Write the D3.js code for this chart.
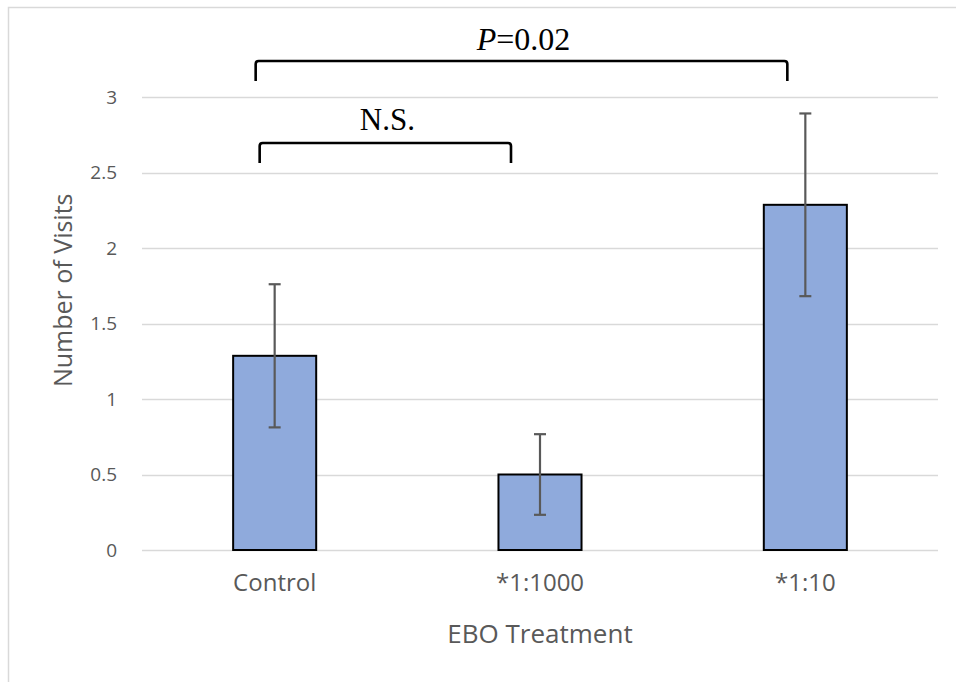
<!DOCTYPE html>
<html>
<head>
<meta charset="utf-8">
<script src="https://cdn.jsdelivr.net/npm/d3@7"></script>
<style>
  html, body { margin: 0; padding: 0; background: #fff; }
  svg { display: block; }
</style>
</head>
<body>
<script>
// Mean visits per EBO treatment with standard error
const categories = ["Control", "*1:1000", "*1:10"];
const means = [1.286, 0.5, 2.286];
const errors = [0.474, 0.267, 0.605];
const yTicks = [0, 0.5, 1, 1.5, 2, 2.5, 3];
const comparisons = [
  { from: "Control", to: "*1:1000", label: "N.S.", level: 0 },
  { from: "Control", to: "*1:10", label: "P=0.02", level: 1 }
];

const W = 956, H = 682;
const margin = { left: 142, right: 18, top: 97, bottom: 132 };
const plotW = W - margin.left - margin.right;
const plotH = H - margin.top - margin.bottom;

const svg = d3.select("body").append("svg").attr("width", W).attr("height", H);

// Chart area frame
svg.append("rect")
  .attr("x", 8.5).attr("y", 7.5)
  .attr("width", W + 10).attr("height", H + 10)
  .attr("fill", "#fff").attr("stroke", "#d9d9d9").attr("stroke-width", 1.5);

const x = d3.scaleBand().domain(categories).range([margin.left, margin.left + plotW])
  .paddingInner(0.687).paddingOuter(0.3435);
const y = d3.scaleLinear().domain([0, 3]).range([margin.top + plotH, margin.top]);

const font = "'Open Sans', 'Noto Sans', sans-serif";
const serif = "'Liberation Serif', 'Times New Roman', serif";

// Gridlines
svg.append("g").selectAll("line").data(yTicks).join("line")
  .attr("x1", margin.left).attr("x2", margin.left + plotW)
  .attr("y1", d => Math.round(y(d)) + 0.5).attr("y2", d => Math.round(y(d)) + 0.5)
  .attr("stroke", "#d9d9d9").attr("stroke-width", 1.5);

// Y axis tick labels
const yAxis = d3.axisLeft(y).tickValues(yTicks).tickSize(0).tickPadding(0).tickFormat(d3.format("~g"));
const yg = svg.append("g").attr("transform", `translate(${margin.left - 25},0)`).call(yAxis);
yg.select(".domain").remove();
yg.selectAll("text").attr("font-family", font).attr("font-size", 19).attr("fill", "#595959");

// Bars
svg.append("g").selectAll("rect").data(categories).join("rect")
  .attr("x", d => x(d)).attr("width", x.bandwidth())
  .attr("y", (d, i) => y(means[i])).attr("height", (d, i) => y(0) - y(means[i]))
  .attr("fill", "#8faadc").attr("stroke", "#000").attr("stroke-width", 2);

// Error bars
const eg = svg.append("g").attr("stroke", "#595959").attr("stroke-width", 2.2);
categories.forEach((c, i) => {
  const cx = x(c) + x.bandwidth() / 2;
  const top = y(means[i] + errors[i]), bot = y(means[i] - errors[i]);
  eg.append("line").attr("x1", cx).attr("x2", cx).attr("y1", top).attr("y2", bot);
  eg.append("line").attr("x1", cx - 6).attr("x2", cx + 6).attr("y1", top).attr("y2", top);
  eg.append("line").attr("x1", cx - 6).attr("x2", cx + 6).attr("y1", bot).attr("y2", bot);
});

// X axis category labels
const xAxis = d3.axisBottom(x).tickSize(0).tickPadding(0);
const xg = svg.append("g").attr("transform", `translate(0,${y(0) + 24})`).call(xAxis);
xg.select(".domain").remove();
xg.selectAll("text").attr("font-family", font).attr("font-size", 24).attr("fill", "#595959");

// Axis titles
svg.append("text").attr("x", margin.left + plotW / 2).attr("y", 643)
  .attr("text-anchor", "middle").attr("font-family", font).attr("font-size", 26)
  .attr("fill", "#595959").text("EBO Treatment");
svg.append("text").attr("transform", `translate(72,${y(1.72)}) rotate(-90)`)
  .attr("text-anchor", "middle").attr("font-family", font).attr("font-size", 25)
  .attr("fill", "#595959").text("Number of Visits");

// Significance brackets
const levels = [{ barY: 143, textY: 130, size: 31 }, { barY: 61, textY: 50, size: 32 }];
comparisons.forEach(cmp => {
  const x0 = cmp.level === 0 ? x(cmp.from) + x.bandwidth() / 2 - 15 : x(cmp.from) + x.bandwidth() / 2 - 19;
  const x1 = cmp.level === 0 ? x(cmp.to) + x.bandwidth() / 2 - 29 : x(cmp.to) + x.bandwidth() / 2 - 18;
  const L = levels[cmp.level];
  const yb = L.barY, yd = yb + 20, r = 3;
  svg.append("path")
    .attr("d", `M${x0},${yd} V${yb + r} Q${x0},${yb} ${x0 + r},${yb} H${x1 - r} Q${x1},${yb} ${x1},${yb + r} V${yd}`)
    .attr("fill", "none").attr("stroke", "#000").attr("stroke-width", 2.6);
  const t = svg.append("text").attr("x", (x0 + x1) / 2 + 2).attr("y", L.textY)
    .attr("text-anchor", "middle").attr("font-family", serif).attr("font-size", L.size).attr("fill", "#000");
  if (cmp.label.startsWith("P=")) {
    t.append("tspan").attr("font-style", "italic").text("P");
    t.append("tspan").text(cmp.label.slice(1));
  } else {
    t.text(cmp.label);
  }
});
</script>
</body>
</html>
